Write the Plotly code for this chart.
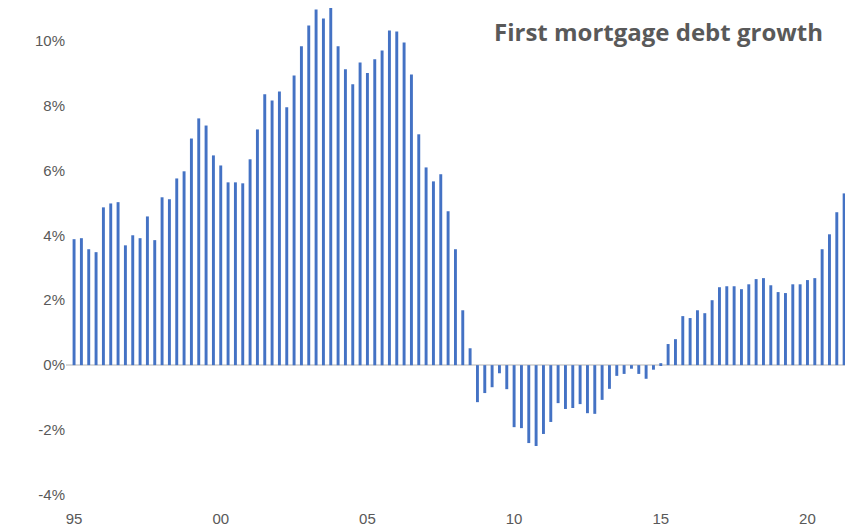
import plotly.graph_objects as go

growth = [3.88,3.91,3.57,3.48,4.86,4.98,5.02,3.69,4.0,3.91,4.58,3.85,5.17,5.11,5.75,5.97,
          6.98,7.6,7.38,6.46,6.15,5.63,5.63,5.6,6.34,7.26,8.34,8.15,8.43,7.94,8.92,9.82,
          10.46,10.95,10.68,11.1,9.82,9.11,8.65,9.32,9.0,9.42,9.69,10.31,10.28,9.94,8.95,7.11,
          6.09,5.66,5.88,4.74,3.57,1.69,0.52,-1.14,-0.86,-0.68,-0.25,-0.74,-1.91,-1.94,
          -2.4,-2.49,-2.12,-1.75,-1.17,-1.35,-1.32,-1.2,-1.48,-1.5,-1.07,-0.73,-0.33,-0.27,
          -0.11,-0.27,-0.42,-0.14,0.06,0.65,0.8,1.51,1.45,1.69,1.6,2.0,2.4,2.43,2.43,2.34,
          2.49,2.65,2.68,2.46,2.25,2.22,2.49,2.49,2.62,2.68,3.57,4.03,4.71,5.29,5.97,6.4]
tick_idx = [0, 20, 40, 60, 80, 100]
tick_labels = ["95", "00", "05", "10", "15", "20"]
y_ticks = [-4, -2, 0, 2, 4, 6, 8, 10]

fig = go.Figure(go.Bar(x=list(range(len(growth))), y=growth, width=0.4,
                       marker=dict(color="#4472C4", line=dict(width=0)), cliponaxis=False))
fig.add_annotation(text="<b>First mortgage debt growth</b>", xref="paper", yref="paper",
                   x=0.955, y=0.99, xanchor="right", yanchor="top", showarrow=False,
                   font=dict(size=24, color="#595959", family="Open Sans"))
fig.update_layout(width=853, height=527, margin=dict(l=58, r=0, t=0, b=27, autoexpand=False),
                  plot_bgcolor="white", paper_bgcolor="white", showlegend=False,
                  font=dict(family="Liberation Sans", size=15, color="#595959"))
fig.update_xaxes(range=[-1.1, 107.3], tickvals=tick_idx, ticktext=tick_labels, automargin=False,
                 showgrid=False, showline=False, zeroline=False, ticks="")
fig.update_yaxes(range=[-4.4, 11], tickvals=y_ticks, ticktext=[f"{v}%" for v in y_ticks],
                 automargin=False, showgrid=False, zeroline=True, zerolinecolor="#D9D9D9",
                 zerolinewidth=1.5, showline=False, ticks="")
fig.write_html("out.html")
